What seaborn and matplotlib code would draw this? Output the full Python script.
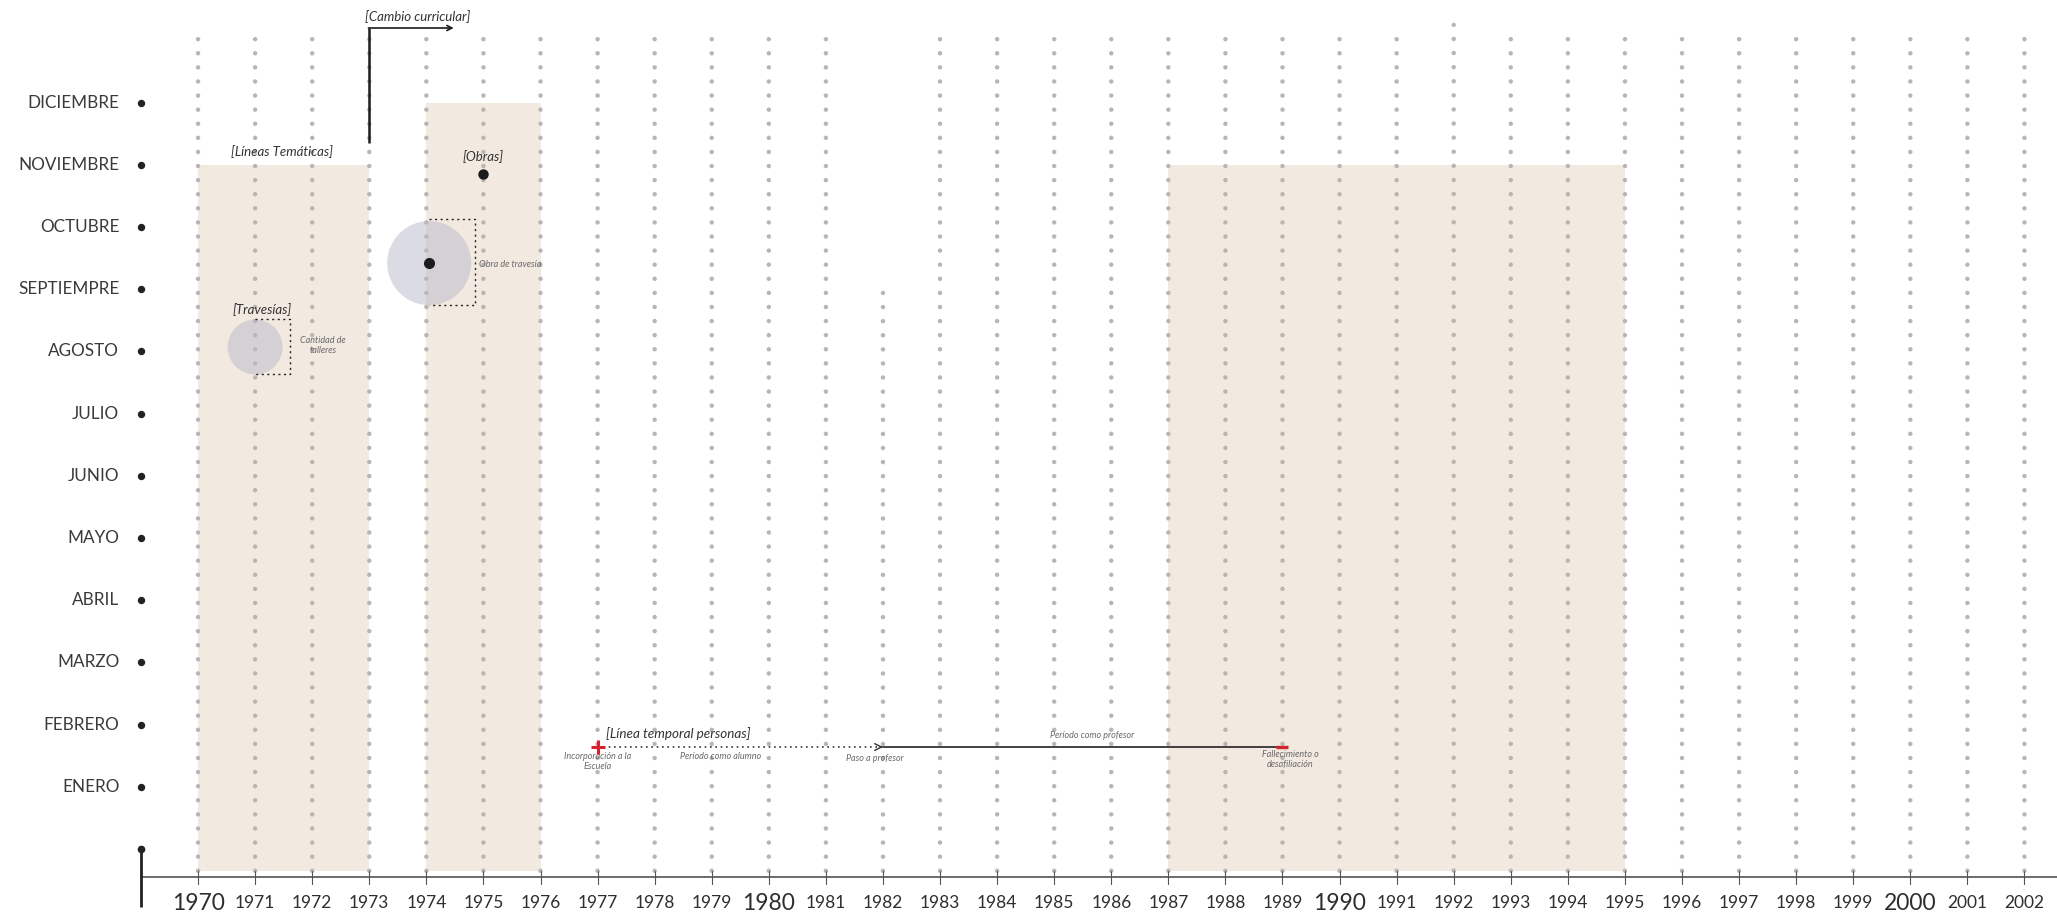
import numpy as np
import pandas as pd
import matplotlib
matplotlib.use('Agg')
import matplotlib.pyplot as plt
import seaborn as sns

# data
years = list(range(1970, 2003))
decade_years = [1970, 1980, 1990, 2000]
months = ['ENERO', 'FEBRERO', 'MARZO', 'ABRIL', 'MAYO', 'JUNIO', 'JULIO',
          'AGOSTO', 'SEPTIEMPRE', 'OCTUBRE', 'NOVIEMBRE', 'DICIEMBRE']
month_num = list(range(1, 13))

# columns of the dotted background: where each column starts (in months)
col_top = {y: 13.02 for y in years}
col_top[1982] = 8.94
col_top[1992] = 13.25

# shaded bands  [Líneas Temáticas]
band_start = [1970, 1974, 1987]
band_end = [1973, 1976, 1995]
band_top = [11, 12, 11]

# bubbles  [Travesías] / obra de travesía
bubble_x = [1971.0, 1974.05]
bubble_y = [8.07, 9.42]
bubble_s = [1570, 3660]

# [Obras]
obra_x = [1975.0]
obra_y = [10.86]

# [Línea temporal personas]
join_year = 1977
teacher_year = 1982
leave_year = 1989
person_month = 1.64

# cambio curricular
change_year = 1973

sns.set_style('white')
plt.rcParams['font.family'] = ['Lato', 'DejaVu Sans']

fig = plt.figure(figsize=(20.57, 9.18), dpi=100)
ax = fig.add_axes([0, 0, 1, 1])
ax.set_xlim(1966.53, 2002.57)
ax.set_ylim(-1.109, 13.65)
ax.axis('off')

band_col = '#f2e9e1'
dot_col = '#bab5b2'
txt = '#333333'
soft = '#6a6a6a'
bottom = -0.35

# bands
for s, e, t in zip(band_start, band_end, band_top):
    ax.fill_between([s, e], bottom, t, color=band_col, lw=0, zorder=0)

# dotted grid
step = 0.2266
rows = []
for y in years:
    for m in np.arange(col_top[y], bottom - 0.01, -step):
        rows.append((y, m))
grid = pd.DataFrame(rows, columns=['year', 'month'])
sns.scatterplot(data=grid, x='year', y='month', s=10, color=dot_col,
                edgecolor='none', ax=ax, zorder=1, legend=False)

# axes lines
ax.plot([1969, 2002.6], [-0.45, -0.45], color='#444444', lw=1.1, zorder=3)
ax.plot([1969, 1969], [0, -0.93], color='#222222', lw=2.0, zorder=3,
        solid_capstyle='butt')
ax.plot([1969], [0], 'o', color='#222222', ms=4.5, zorder=3)
for y in years:
    ax.plot([y, y], [bottom, -0.57], color='#555555', lw=0.8, zorder=3)
    big = y in decade_years
    ax.text(y, -0.87, str(y), ha='center', va='center', color='#2e2e2e',
            fontsize=16.5 if big else 12.5)

# months
for m, name in zip(month_num, months):
    ax.text(1968.62, m, name, ha='right', va='center', color='#3a3a3a',
            fontsize=12.3)
    ax.plot([1969.0], [m], 'o', color='#222222', ms=4.3, zorder=3)

# bubbles
bub = pd.DataFrame({'x': bubble_x, 'y': bubble_y, 's': bubble_s})
ax.scatter(bub['x'], bub['y'], s=bub['s'], color='#b9b9c9', alpha=0.5,
           edgecolor='none', zorder=2)
ax.plot([bubble_x[1]], [bubble_y[1]], 'o', color='#1c1c1c', ms=7, zorder=4)

# dotted brackets round bubbles
for x0, x1, y0, y1 in [(1971.0, 1971.61, 7.64, 8.52),
                       (1974.05, 1974.85, 8.74, 10.13)]:
    ax.plot([x0, x1, x1, x0], [y1, y1, y0, y0], color='#222222', lw=1.0,
            ls=(0, (1.5, 2.5)), zorder=4)

ax.text(1971.13, 8.68, '[Travesías]', ha='center', va='center', color=txt,
        fontsize=9.5, style='italic')
ax.text(1972.19, 8.09, 'Cantidad de\ntalleres', ha='center', va='center',
        color=soft, fontsize=6.5, style='italic', linespacing=1.1)
ax.text(1974.93, 9.39, 'Obra de travesía', ha='left', va='center',
        color=soft, fontsize=6.5, style='italic')

# obras
ax.plot(obra_x, obra_y, 'o', color='#1c1c1c', ms=6.5, zorder=4)
ax.text(1975.0, 11.13, '[Obras]', ha='center', va='center', color=txt,
        fontsize=9.5, style='italic')

ax.text(1971.47, 11.22, '[Líneas Temáticas]', ha='center', va='center',
        color=txt, fontsize=9.5, style='italic')

# cambio curricular
ax.plot([change_year, change_year], [11.35, 13.2], color='#1c1c1c', lw=1.8,
        zorder=4, solid_capstyle='butt')
ax.annotate('', xy=(change_year + 1.48, 13.2), xytext=(change_year - 0.015, 13.2),
            arrowprops=dict(arrowstyle='->', color='#1c1c1c', lw=1.2,
                            shrinkA=0, shrinkB=0, mutation_scale=9))
ax.text(change_year + 0.84, 13.39, '[Cambio curricular]', ha='center',
        va='center', color=txt, fontsize=9.5, style='italic')

# persons timeline
ax.plot([join_year, teacher_year], [person_month] * 2, color='#333333',
        lw=1.2, ls=(0, (1, 2.2)), zorder=4)
ax.annotate('', xy=(teacher_year, person_month),
            xytext=(teacher_year - 0.05, person_month),
            arrowprops=dict(arrowstyle='->', color='#333333', lw=1.0,
                            shrinkA=0, shrinkB=0, mutation_scale=12))
ax.plot([teacher_year, leave_year], [person_month] * 2, color='#333333',
        lw=1.3, zorder=4)
ax.plot([join_year], [person_month], marker='+', color='#d4232e', ms=10,
        mew=2.2, zorder=5)
ax.plot([leave_year], [person_month], marker='_', color='#d4232e', ms=8,
        mew=2.4, zorder=5)

ax.text(1977.15, 1.86, '[Línea temporal personas]', ha='left', va='center',
        color=txt, fontsize=9.7, style='italic')
small = dict(ha='center', va='center', color=soft, fontsize=6.5,
             style='italic', linespacing=1.15)
ax.text(1977.0, 1.40, 'Incorporación a la\nEscuela', **small)
ax.text(1979.15, 1.48, 'Período como alumno', **small)
ax.text(1981.85, 1.46, 'Paso a profesor', **small)
ax.text(1985.67, 1.83, 'Período como profesor', **small)
ax.text(1989.13, 1.44, 'Fallecimiento o\ndesafiliación', **small)

fig.savefig('out.png', dpi=100)
